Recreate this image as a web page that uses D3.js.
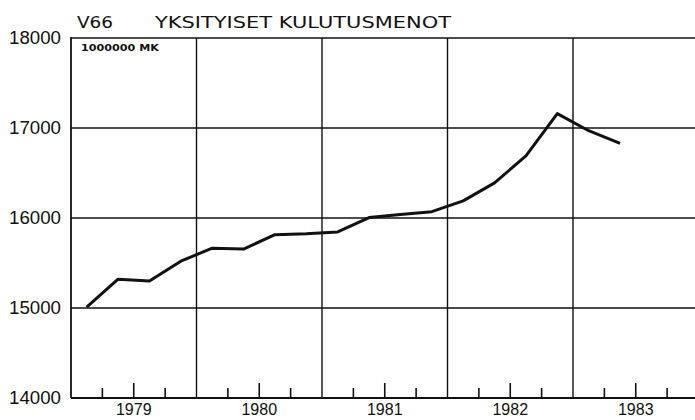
<!DOCTYPE html>
<html>
<head>
<meta charset="utf-8">
<script src="https://cdn.jsdelivr.net/npm/d3@7"></script>
<style>
  html, body { margin: 0; padding: 0; background: #fff; }
  svg { display: block; }
</style>
</head>
<body>
<div id="chart"></div>
<script>
// ---- data ----
const titleCode = "V66";
const titleText = "YKSITYISET KULUTUSMENOT";
const unitLabel = "1000000 MK";
const years = [1979, 1980, 1981, 1982, 1983];
const quarters = ["1979Q1","1979Q2","1979Q3","1979Q4",
                  "1980Q1","1980Q2","1980Q3","1980Q4",
                  "1981Q1","1981Q2","1981Q3","1981Q4",
                  "1982Q1","1982Q2","1982Q3","1982Q4",
                  "1983Q1","1983Q2"];
const values = [15010, 15320, 15300, 15520,
                15665, 15655, 15815, 15825,
                15845, 16005, 16040, 16070,
                16190, 16390, 16690, 17160,
                16970, 16830];
const yTicks = [14000, 15000, 16000, 17000, 18000];

(function () {
// ---- layout ----
const W = 695, H = 420;
const mLeft = 71, mTop = 38, mBottom = 398;

const svg = d3.select("#chart").append("svg")
  .attr("width", W).attr("height", H);

const x = d3.scaleLinear().domain([1979, 1984]).range([mLeft, 698.5]);
const y = d3.scaleLinear().domain([14000, 18000]).range([mBottom, mTop]);

const ink = "#111";

function qToX(q) {
  const yr = +q.slice(0, 4), qi = +q.slice(5);
  return x(yr + (qi - 0.5) / 4);
}

// horizontal grid lines (incl. top border)
svg.append("g").selectAll("line")
  .data(yTicks.filter(d => d > 14000))
  .join("line")
  .attr("x1", mLeft).attr("x2", W)
  .attr("y1", d => y(d)).attr("y2", d => y(d))
  .attr("stroke", ink).attr("stroke-width", 1.5);

// vertical grid lines at year boundaries
svg.append("g").selectAll("line")
  .data(years.slice(1))
  .join("line")
  .attr("x1", d => x(d)).attr("x2", d => x(d))
  .attr("y1", mTop).attr("y2", mBottom)
  .attr("stroke", ink).attr("stroke-width", 1.4);

// left axis line
svg.append("line")
  .attr("x1", mLeft).attr("x2", mLeft)
  .attr("y1", mTop - 1).attr("y2", mBottom)
  .attr("stroke", ink).attr("stroke-width", 1.8);

// bottom axis line
svg.append("line")
  .attr("x1", mLeft).attr("x2", W)
  .attr("y1", mBottom).attr("y2", mBottom)
  .attr("stroke", ink).attr("stroke-width", 2.2);

// quarter ticks
const qTicks = [];
years.forEach(yr => { [0.25, 0.5, 0.75].forEach(f => qTicks.push(yr + f)); });
svg.append("g").selectAll("line")
  .data(qTicks.filter(d => x(d) < W))
  .join("line")
  .attr("x1", d => x(d)).attr("x2", d => x(d))
  .attr("y1", mBottom)
  .attr("y2", d => mBottom - (Math.abs((d % 1) - 0.5) < 0.01 ? 15 : 10))
  .attr("stroke", ink).attr("stroke-width", 1.6);

// y tick labels
svg.append("g").selectAll("text")
  .data(yTicks)
  .join("text")
  .attr("x", 61).attr("y", d => y(d) + 6)
  .attr("text-anchor", "end")
  .attr("font-family", "Liberation Sans, Arial, sans-serif")
  .attr("font-size", 17.5)
  .attr("fill", ink)
  .attr("textLength", 52).attr("lengthAdjust", "spacingAndGlyphs")
  .text(d => d);

// x year labels
svg.append("g").selectAll("text")
  .data(years)
  .join("text")
  .attr("x", d => x(d + 0.5)).attr("y", 415)
  .attr("text-anchor", "middle")
  .attr("font-family", "Liberation Sans, Arial, sans-serif")
  .attr("font-size", 16)
  .attr("fill", ink)
  .text(d => d);

// title
svg.append("text")
  .attr("x", 77).attr("y", 28)
  .attr("font-family", "DejaVu Sans, sans-serif")
  .attr("font-size", 15)
  .attr("fill", ink)
  .attr("textLength", 36).attr("lengthAdjust", "spacingAndGlyphs")
  .text(titleCode);
svg.append("text")
  .attr("x", 155).attr("y", 28)
  .attr("font-family", "DejaVu Sans, sans-serif")
  .attr("font-size", 15)
  .attr("fill", ink)
  .attr("textLength", 296).attr("lengthAdjust", "spacingAndGlyphs")
  .text(titleText);

// unit label
svg.append("text")
  .attr("x", 81).attr("y", 51)
  .attr("font-family", "DejaVu Sans, sans-serif")
  .attr("font-size", 9.5)
  .attr("font-weight", "bold")
  .attr("fill", ink)
  .attr("textLength", 78).attr("lengthAdjust", "spacingAndGlyphs")
  .text(unitLabel);

// data line
const line = d3.line()
  .x((d, i) => qToX(quarters[i]))
  .y(d => y(d));
svg.append("path")
  .datum(values)
  .attr("d", line)
  .attr("fill", "none")
  .attr("stroke", ink)
  .attr("stroke-width", 3)
  .attr("stroke-linejoin", "round");
})();
</script>
</body>
</html>
